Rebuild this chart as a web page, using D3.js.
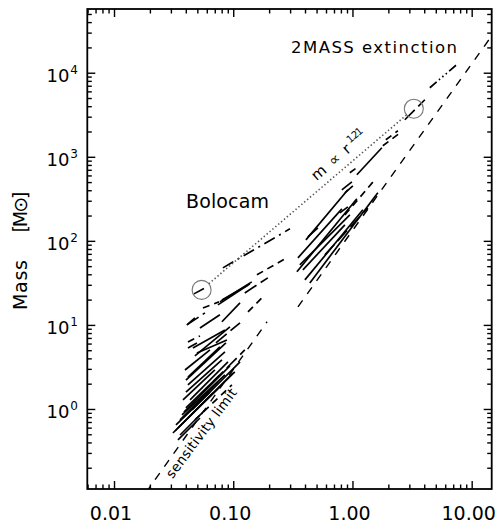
<!DOCTYPE html>
<html><head><meta charset="utf-8">
<script src="https://cdn.jsdelivr.net/npm/d3@7"></script>
<style>
body{margin:0;background:#fff}
svg{display:block}
text{font-family:"DejaVu Sans",sans-serif;fill:#000}
</style>
</head><body>
<svg id="c" width="503" height="526"></svg>
<script>
// ---------- data ----------
const xMajor = [0.01, 0.1, 1, 10];
const xMajorLabels = ["0.01", "0.10", "1.00", "10.00"];
const yMajor = [1, 10, 100, 1000, 10000];
const yMajorExp = ["0", "1", "2", "3", "4"];

// Bolocam clumps: radius (pc) and mass (Msun) at both ends of each segment
const bolR1 = [0.0468,0.0819,0.158,0.0773,0.0744,0.0804,0.125,0.0804,0.133,0.0409,0.0526,0.0557,0.0409,0.0417,0.0417,0.0496,0.0459,0.0417,0.0401,0.0716,0.0477,0.0312,0.0325,0.0331,0.0344,0.0358,0.0372,0.0386,0.0401,0.0417,0.0434,0.0379,0.0401,0.0417,0.0451,0.0477,0.0358,0.0344,0.0526,0.0394];
const bolM1 = [23.4,47.7,39.4,18.8,17.3,19.8,24.0,10.9,14.3,10.0,9.21,15.9,10.0,6.28,5.32,4.64,5.32,2.40,2.21,6.11,4.28,0.518,0.547,0.645,0.594,0.740,0.848,0.921,1.03,0.781,1.28,1.28,1.59,1.93,0.973,0.740,0.490,0.428,1.47,2.91];
const bolR2 = [0.0568,0.299,0.271,0.143,0.138,0.133,0.195,0.114,0.174,0.0579,0.0773,0.0759,0.0477,0.0526,0.0496,0.0885,0.0852,0.0773,0.0868,0.114,0.0938,0.0676,0.0994,0.0638,0.0804,0.0744,0.0852,0.0938,0.0773,0.103,0.0903,0.0702,0.0804,0.0852,0.114,0.0975,0.0579,0.0526,0.125,0.0638];
const bolM2 = [27.2,139,61.1,32.5,30.8,29.9,36.3,18.3,21.0,13.9,13.2,18.8,12.1,7.40,6.11,6.63,8.72,5.47,6.11,10.6,9.47,1.55,2.68,1.59,1.93,2.10,2.54,3.25,2.54,2.76,3.63,2.91,3.83,4.77,3.63,1.93,0.973,0.781,5.04,5.04];
const bolStyle = [0,3,2,0,0,0,5,0,2,5,0,2,0,2,0,0,0,0,0,5,0,0,0,0,0,0,0,0,0,0,0,0,0,0,0,2,0,0,5,0];

// 2MASS extinction clouds
const tmR1 = [0.407,0.423,0.349,0.342,0.399,0.362,0.384,0.439,0.784,0.815,0.864,0.951,1.089,1.798,1.905,2.750,4.455,0.864,0.587];
const tmM1 = [102.8,111.6,62.8,42.8,34.3,51.8,45.2,31.6,215.4,404.6,372.8,644.9,610.6,1352,1594,2757,6628,203.9,68.1];
const tmR2 = [0.915,0.513,0.815,1.089,1.222,0.951,0.864,1.633,0.915,0.989,1.008,1.110,1.764,2.449,2.403,4.045,7.648,1.541,1.346];
const tmM2 = [404.6,142.8,240.4,316.2,233.9,203.9,155.1,372.8,254.0,504.0,451.6,760.3,1280,1878,2039,4771,12800,532.3,247.2];
const tmStyle = [0,0,0,0,0,0,0,0,0,0,0,2,0,2,2,5,4,2,5];

// sensitivity limits
const bolSensR = [0.0185, 0.192];
const bolSensM = [0.1008, 10.9];
const tmSensR = [0.349, 15];
const tmSensM = [16.4, 28500];

// m ∝ r^1.21 fit between the two marked points
const fitR = [0.0543, 3.27];
const fitM = [26.1, 3730];
const fitExp = 1.21;

// ---------- drawing ----------
const L = 87.3, R = 491.7, T = 9, B = 489;
const xDom = [0.00597, 14.72], yDom = [0.1117, 57280];
const x = d3.scaleLog().domain(xDom).range([L, R]);
const y = d3.scaleLog().domain(yDom).range([B, T]);
const svg = d3.select("#c");

svg.append("defs").append("clipPath").attr("id", "clip")
  .append("rect").attr("x", L).attr("y", T).attr("width", R - L).attr("height", B - T);

const dashMap = {0: null, 2: "7,5", 3: "12,5,2,5", 4: "9,3,1.5,3,1.5,3,1.5,3", 5: "14,5"};

const plot = svg.append("g").attr("clip-path", "url(#clip)");

function drawSegs(r1, m1, r2, m2, st) {
  plot.append("g").selectAll("line").data(d3.range(r1.length)).join("line")
    .attr("x1", i => x(r1[i])).attr("y1", i => y(m1[i]))
    .attr("x2", i => x(r2[i])).attr("y2", i => y(m2[i]))
    .attr("stroke", "#000").attr("stroke-width", 1.7)
    .attr("stroke-dasharray", i => dashMap[st[i]]);
}
drawSegs(bolR1, bolM1, bolR2, bolM2, bolStyle);
drawSegs(tmR1, tmM1, tmR2, tmM2, tmStyle);

// sensitivity lines
[[bolSensR, bolSensM], [tmSensR, tmSensM]].forEach(([rr, mm]) => {
  plot.append("line")
    .attr("x1", x(rr[0])).attr("y1", y(mm[0]))
    .attr("x2", x(rr[1])).attr("y2", y(mm[1]))
    .attr("stroke", "#000").attr("stroke-width", 1.4)
    .attr("stroke-dasharray", "8,8");
});

// fit line + circles
const rad = 9.5;
const p1 = [x(fitR[0]), y(fitM[0])], p2 = [x(fitR[1]), y(fitM[1])];
const dx = p2[0] - p1[0], dy = p2[1] - p1[1], len = Math.hypot(dx, dy);
const ux = dx / len, uy = dy / len;
plot.append("line")
  .attr("x1", p1[0] + ux * rad).attr("y1", p1[1] + uy * rad)
  .attr("x2", p2[0] - ux * rad).attr("y2", p2[1] - uy * rad)
  .attr("stroke", "#555").attr("stroke-width", 1.6)
  .attr("stroke-dasharray", "1.4,2.4");
plot.selectAll("circle.fit").data([0, 1]).join("circle")
  .attr("cx", i => x(fitR[i])).attr("cy", i => y(fitM[i])).attr("r", rad)
  .attr("fill", "none").attr("stroke", "#777").attr("stroke-width", 1.1);

// fit label
const ang = Math.atan2(dy, dx) * 180 / Math.PI;
const rl = 0.552, ml = fitM[0] * Math.pow(rl / fitR[0], fitExp);
const nx = uy, ny = -ux; // up-normal
const gl = svg.append("g")
  .attr("transform", `translate(${x(rl) + 8 * nx},${y(ml) + 8 * ny}) rotate(${ang})`);
gl.append("text").attr("x", 0).attr("y", 0).attr("font-size", 15)
  .attr("textLength", 47).attr("lengthAdjust", "spacing").text("m ∝ r");
gl.append("text").attr("x", 50).attr("y", -7).attr("font-size", 10)
  .attr("textLength", 18).attr("lengthAdjust", "spacing").text(fitExp.toFixed(2));

// frame
svg.append("rect").attr("x", L).attr("y", T).attr("width", R - L).attr("height", B - T)
  .attr("fill", "none").attr("stroke", "#000").attr("stroke-width", 1.8);

// ticks
function minors(dom) {
  const out = [];
  for (let d = -3; d <= 5; d++) for (let k = 2; k <= 9; k++) {
    const v = k * Math.pow(10, d);
    if (v >= dom[0] && v <= dom[1]) out.push(v);
  }
  return out;
}
const xMin = minors(xDom), yMin = minors(yDom);
function tickAxis(axis, vals, size, tr) {
  const g = svg.append("g").attr("transform", tr)
    .call(axis.tickValues(vals).tickSize(-size).tickFormat(""));
  g.select(".domain").remove();
  g.selectAll("line").attr("stroke", "#000").attr("stroke-width", 1.4);
  g.selectAll("text").remove();
}
tickAxis(d3.axisBottom(x), xMajor, 8, `translate(0,${B})`);
tickAxis(d3.axisBottom(x), xMin, 4.5, `translate(0,${B})`);
tickAxis(d3.axisTop(x), xMajor, 8, `translate(0,${T})`);
tickAxis(d3.axisTop(x), xMin, 4.5, `translate(0,${T})`);
tickAxis(d3.axisLeft(y), yMajor, 8, `translate(${L},0)`);
tickAxis(d3.axisLeft(y), yMin, 4.5, `translate(${L},0)`);
tickAxis(d3.axisRight(y), yMajor, 8, `translate(${R},0)`);
tickAxis(d3.axisRight(y), yMin, 4.5, `translate(${R},0)`);

// tick labels
svg.append("g").selectAll("text").data(xMajor).join("text")
  .attr("x", d => x(d) - 3).attr("y", 520).attr("text-anchor", "middle")
  .attr("font-size", 19).text((d, i) => xMajorLabels[i]);

const yl = svg.append("g").selectAll("text").data(yMajor).join("text")
  .attr("x", 78).attr("y", d => y(d) + 9).attr("text-anchor", "end");
yl.append("tspan").attr("font-size", 18).text("10");
yl.append("tspan").attr("font-size", 12).attr("dx", 1).attr("dy", -8).text((d, i) => yMajorExp[i]);

// axis title
svg.append("text").attr("transform", "translate(26.7,285) rotate(-90)")
  .attr("text-anchor", "middle").attr("font-size", 19)
  .attr("textLength", 50).attr("lengthAdjust", "spacing").text("Mass");
svg.append("text").attr("transform", "translate(26.7,212) rotate(-90)")
  .attr("text-anchor", "middle").attr("font-size", 19)
  .attr("textLength", 41).attr("lengthAdjust", "spacing").text("[M⊙]");

// annotations
svg.append("text").attr("x", 291).attr("y", 53.3).attr("font-size", 16.5)
  .attr("textLength", 166).attr("lengthAdjust", "spacing").text("2MASS extinction");
svg.append("text").attr("x", 186).attr("y", 208.3).attr("font-size", 19)
  .attr("textLength", 83).attr("lengthAdjust", "spacing").text("Bolocam");
svg.append("text").attr("transform", "translate(205,436) rotate(-53)")
  .attr("text-anchor", "middle").attr("font-size", 13.5)
  .attr("textLength", 108).attr("lengthAdjust", "spacing").text("sensitivity limit");
</script>
</body></html>
